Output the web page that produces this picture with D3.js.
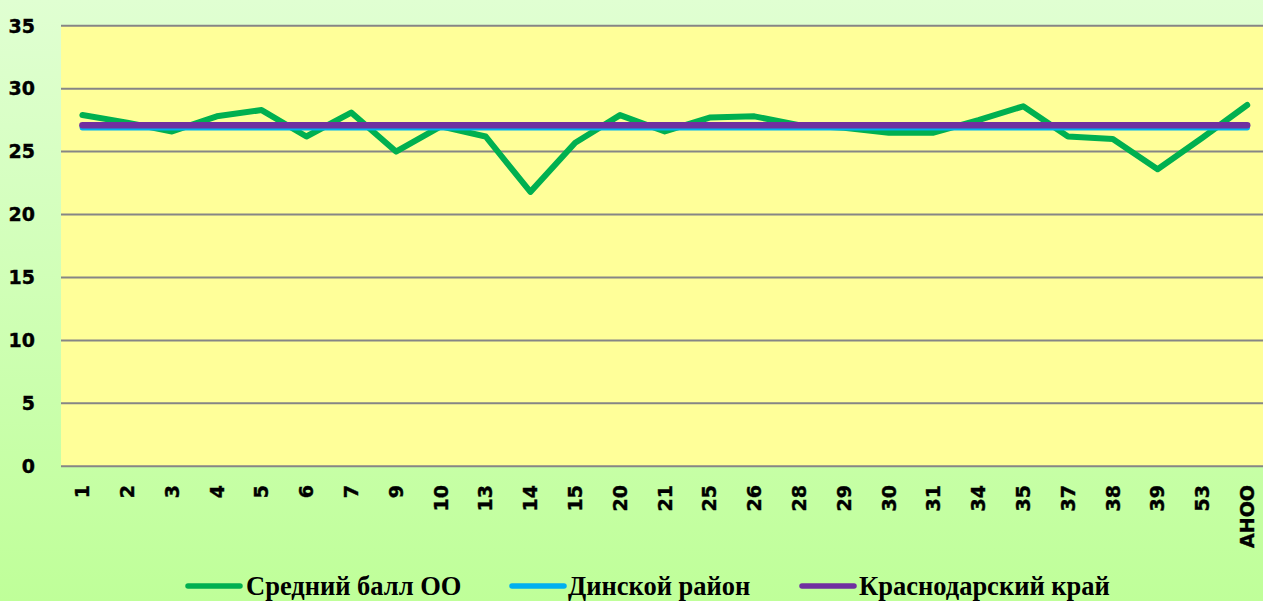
<!DOCTYPE html>
<html>
<head>
<meta charset="utf-8">
<script src="https://cdn.jsdelivr.net/npm/d3@7"></script>
<style>
  html, body { margin: 0; padding: 0; }
  body { width: 1263px; height: 601px; overflow: hidden; }
</style>
</head>
<body>
<div id="chart"></div>
<script>
const categories = ['1', '2', '3', '4', '5', '6', '7', '9', '10', '13', '14', '15', '20', '21', '25', '26', '28', '29', '30', '31', '34', '35', '37', '38', '39', '53', 'АНОО'];
const schoolAvg = [27.9, 27.3, 26.6, 27.8, 28.3, 26.2, 28.1, 25.0, 27.0, 26.2, 21.8, 25.7, 27.9, 26.6, 27.7, 27.8, 27.1, 26.9, 26.5, 26.5, 27.5, 28.6, 26.2, 26.0, 23.6, 26.1, 28.7];
const districtAvg = categories.map(() => 26.9);
const regionAvg = categories.map(() => 27.1);
const yTicks = [0, 5, 10, 15, 20, 25, 30, 35];
const seriesNames = ['Средний балл ОО', 'Динской район', 'Краснодарский край'];

const W = 1263, H = 601;
const colors = ['#00b050', '#00b0f0', '#7030a0'];

const svg = d3.select('#chart').append('svg')
  .attr('width', W)
  .attr('height', H);

// background gradient
const defs = svg.append('defs');
const grad = defs.append('linearGradient')
  .attr('id', 'bg')
  .attr('x1', 0).attr('y1', 0).attr('x2', 0).attr('y2', 1);
grad.append('stop').attr('offset', '0%').attr('stop-color', '#e0ffd2');
grad.append('stop').attr('offset', '100%').attr('stop-color', '#bfff99');

svg.append('rect')
  .attr('width', W).attr('height', H)
  .attr('fill', 'url(#bg)');

const x = d3.scaleBand()
  .domain(categories)
  .range([60, 60 + 27 * 44.8]);

const y = d3.scaleLinear()
  .domain([0, 35])
  .range([466.3, 25.7]);

const cx = (c) => x(c) + x.bandwidth() / 2;

// plot area
svg.append('rect')
  .attr('x', x.range()[0] + 1)
  .attr('y', y(35))
  .attr('width', W - x.range()[0])
  .attr('height', y(0) - y(35))
  .attr('fill', '#ffff99');

// gridlines
svg.append('g')
  .selectAll('line')
  .data(yTicks)
  .enter()
  .append('line')
  .attr('x1', x.range()[0] + 1)
  .attr('x2', W)
  .attr('y1', (d) => y(d))
  .attr('y2', (d) => y(d))
  .attr('stroke', '#868686')
  .attr('stroke-width', 2);

// y labels
svg.append('g')
  .selectAll('text')
  .data(yTicks)
  .enter()
  .append('text')
  .attr('x', 35)
  .attr('y', (d) => y(d))
  .attr('dy', '0.36em')
  .attr('text-anchor', 'end')
  .style('font-family', 'DejaVu Sans, sans-serif')
  .style('font-weight', 'bold')
  .style('font-size', '19px')
  .style('stroke', '#000')
  .style('stroke-width', 0.4)
  .text((d) => d);

// x labels
svg.append('g')
  .selectAll('text')
  .data(categories)
  .enter()
  .append('text')
  .attr('transform', (d) => `translate(${cx(d)},485) rotate(-90)`)
  .attr('dy', '0.36em')
  .attr('text-anchor', 'end')
  .style('font-family', 'DejaVu Sans, sans-serif')
  .style('font-weight', 'bold')
  .style('font-size', '19px')
  .style('stroke', '#000')
  .style('stroke-width', 0.4)
  .text((d) => d);

const line = d3.line()
  .x((d, i) => cx(categories[i]))
  .y((d) => y(d));

const drawLine = (data, color, width) => {
  svg.append('path')
    .datum(data)
    .attr('d', line)
    .attr('fill', 'none')
    .attr('stroke', color)
    .attr('stroke-width', width)
    .attr('stroke-linecap', 'round')
    .attr('stroke-linejoin', 'round');
};

drawLine(schoolAvg, colors[0], 6);
drawLine(districtAvg, colors[1], 5.5);
drawLine(regionAvg, colors[2], 6.5);

// legend
const legendItems = [
  {name: seriesNames[0], color: colors[0], x0: 188, x1: 240, tx: 246},
  {name: seriesNames[1], color: colors[1], x0: 512, x1: 564, tx: 568},
  {name: seriesNames[2], color: colors[2], x0: 802, x1: 854, tx: 859}
];

const leg = svg.append('g');
legendItems.forEach((d) => {
  leg.append('line')
    .attr('x1', d.x0).attr('x2', d.x1)
    .attr('y1', 586).attr('y2', 586)
    .attr('stroke', d.color)
    .attr('stroke-width', 5.5)
    .attr('stroke-linecap', 'round');
  leg.append('text')
    .attr('x', d.tx)
    .attr('y', 595)
    .style('font-family', 'Liberation Serif, serif')
    .style('font-weight', 'bold')
    .style('font-size', '26.5px')
    .text(d.name);
});
</script>
</body>
</html>
